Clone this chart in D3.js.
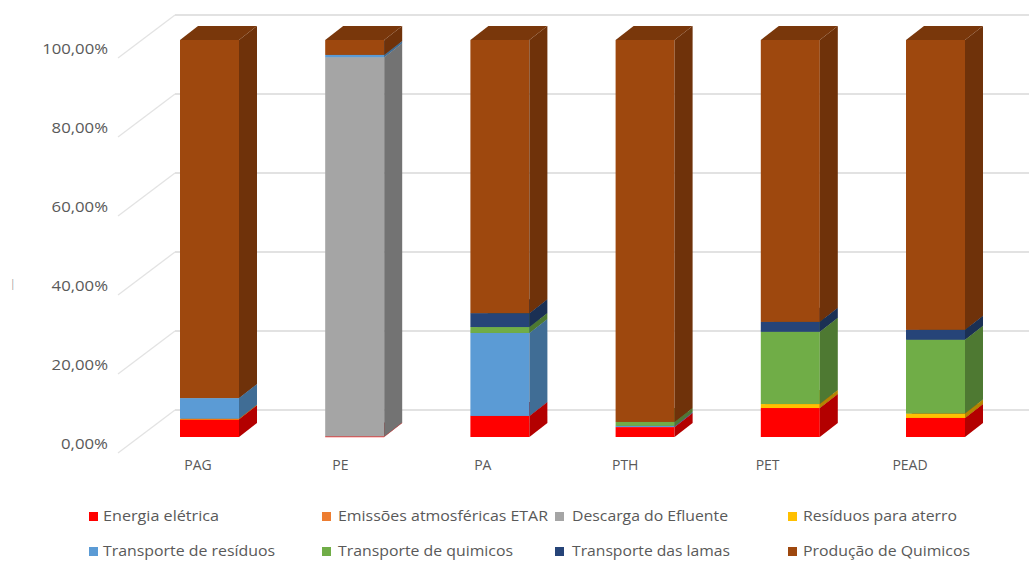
<!DOCTYPE html>
<html><head><meta charset="utf-8">
<script src="https://cdn.jsdelivr.net/npm/d3@7"></script>
<style>body{margin:0;background:#fff}svg{display:block}text{font-family:"Open Sans",sans-serif;fill:#595959}</style>
</head><body><svg id="c" width="1029" height="561"></svg>
<script>
const categories = ["PAG","PE","PA","PTH","PET","PEAD"];
const seriesNames = ["Energia elétrica","Emissões atmosféricas ETAR","Descarga do Efluente","Resíduos para aterro","Transporte de resíduos","Transporte de quimicos","Transporte das lamas","Produção de Quimicos"];
const seriesColors = ["#FF0000","#ED7D31","#A5A5A5","#FFC000","#5B9BD5","#70AD47","#264478","#9E480E"];
const energia   = [4.5, 0.15, 5.3, 2.5, 7.3, 4.8];
const emissoes  = [0, 0, 0, 0, 0, 0];
const descarga  = [0, 95.5, 0, 0, 0, 0];
const aterro    = [0.1, 0, 0, 0, 1.0, 1.1];
const transpRes = [5.2, 0.6, 20.9, 0.3, 0, 0];
const transpQui = [0, 0, 1.5, 1.0, 18.2, 18.6];
const transpLam = [0, 0, 3.5, 0, 2.5, 2.5];
const producao  = [90.2, 3.75, 68.8, 96.2, 71.0, 73.0];
const yTicks = [0,20,40,60,80,100];
const yTickLabels = ["0,00%","20,00%","40,00%","60,00%","80,00%","100,00%"];

const seriesVals = [energia, emissoes, descarga, aterro, transpRes, transpQui, transpLam, producao];
const svg = d3.select("#c");

const yFront = d3.scaleLinear().domain([0,100]).range([437,40]);
const yBack = d3.scaleLinear().domain([0,100]).range([410,15]);
const xC = d3.scalePoint().domain(categories).range([209.5,935.5]);
const xL = d3.scalePoint().domain(categories).range([198,910]);
const barW = 59, dx = 18, dy = -14;

const g = svg.append("g");
yTicks.forEach((t,i)=>{
  const yb = yBack(t);
  g.append("line").attr("x1",175).attr("x2",1029).attr("y1",yb).attr("y2",yb)
    .attr("stroke","#d9d9d9").attr("stroke-width",1.3);
  g.append("line").attr("x1",175).attr("y1",yb).attr("x2",118).attr("y2",yb+43)
    .attr("stroke","#e3e3e3").attr("stroke-width",1.3);
  const lbl = yTickLabels[i];
  svg.append("text").attr("x",108).attr("y",yb+35).attr("text-anchor","end")
    .attr("dominant-baseline","middle").attr("font-size",14)
    .attr("textLength", lbl.length*9.4).attr("lengthAdjust","spacingAndGlyphs").text(lbl);
});
svg.append("text").attr("x",10).attr("y",287).attr("font-size",10).style("fill","#999").text("|");

categories.forEach((c,ci)=>{
  let cum = 0;
  const cx = xC(c), x = cx - barW/2;
  const bg = svg.append("g");
  seriesVals.forEach((vals,si)=>{
    const v = vals[ci];
    if(v<=0) return;
    const y0 = yFront(cum), y1 = yFront(cum+v);
    cum += v;
    const col = d3.color(seriesColors[si]);
    const side = col.darker(1).formatHex(), top = col.darker(0.75).formatHex();
    bg.append("rect").attr("x",x).attr("y",y1).attr("width",barW).attr("height",Math.max(0.8,y0-y1)).attr("fill",seriesColors[si]);
    bg.append("polygon").attr("points",[[x+barW,y1],[x+barW+dx,y1+dy],[x+barW+dx,y0+dy],[x+barW,y0]].map(p=>p.join(",")).join(" ")).attr("fill",side);
    bg.append("polygon").attr("points",[[x,y1],[x+dx,y1+dy],[x+barW+dx,y1+dy],[x+barW,y1]].map(p=>p.join(",")).join(" ")).attr("fill",top);
  });
  svg.append("text").attr("x",xL(c)).attr("y",466).attr("text-anchor","middle").attr("dominant-baseline","middle").attr("font-size",14).text(c);
});

const legendPos = [[89,517,103,116],[322,517,338,210],[555,517,572,156],[788,517,803,154],
                   [89,552,103,172],[322,552,338,175],[555,552,572,158],[788,552,803,167]];
seriesNames.forEach((n,i)=>{
  const p = legendPos[i];
  svg.append("rect").attr("x",p[0]).attr("y",p[1]-5).attr("width",9).attr("height",9).attr("fill",seriesColors[i]);
  svg.append("text").attr("x",p[2]).attr("y",p[1]).attr("dominant-baseline","middle").attr("font-size",14)
    .attr("textLength",p[3]).attr("lengthAdjust","spacingAndGlyphs").text(n);
});
</script></body></html>
